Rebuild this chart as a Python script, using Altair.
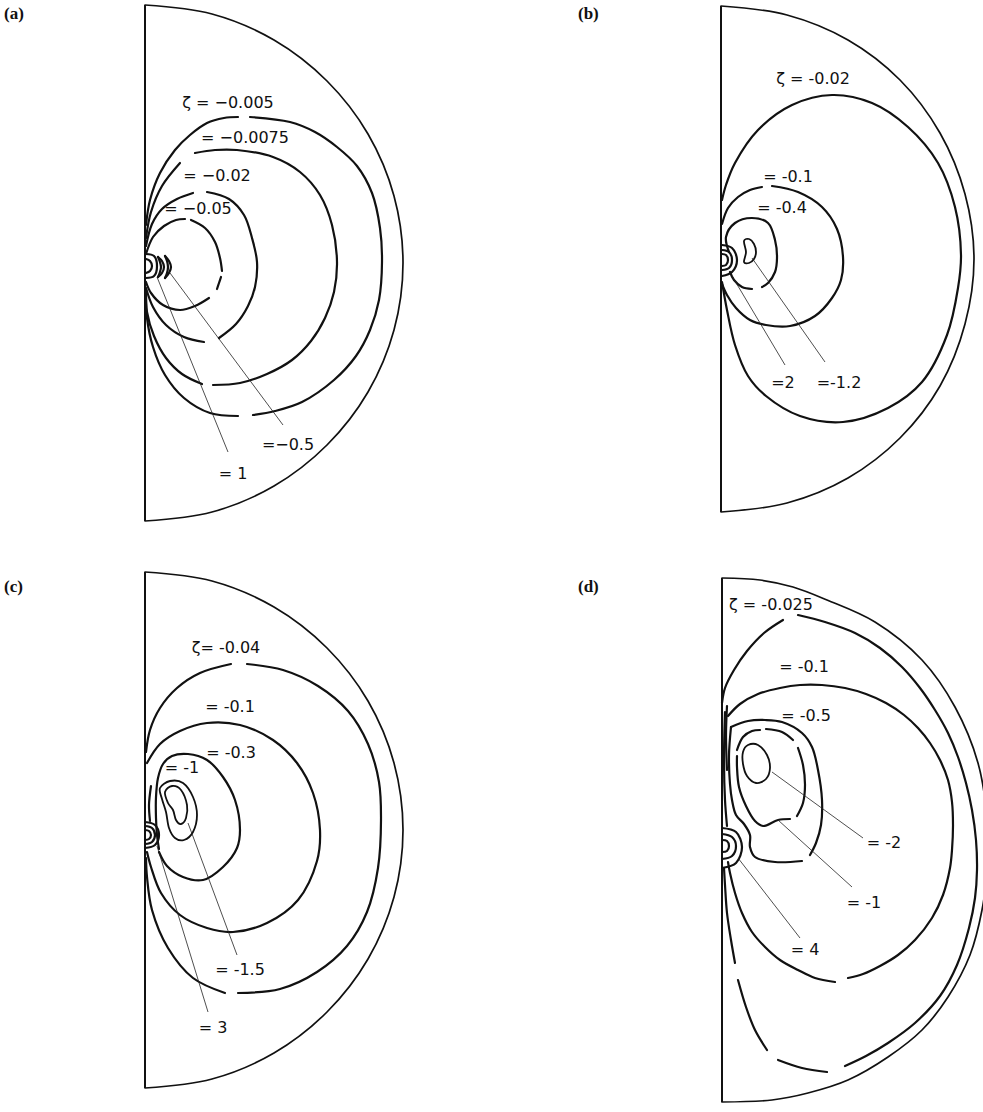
import altair as alt
import pandas as pd

W, H = 983, 1112

# ---------------------------------------------------------------
# Panel outlines: right half-discs (arc points) plus the symmetry axis
# ---------------------------------------------------------------
ARC_A = [(145, 5), (212, 14), (274, 40), (327, 81), (368, 134), (394, 196), (403, 263),
         (394, 330), (368, 392), (327, 445), (274, 486), (212, 512), (145, 521)]
ARC_B = [(721, 6), (787, 15), (848, 40), (900, 80), (940, 133), (965, 194), (974, 259),
         (965, 324), (940, 386), (900, 438), (848, 478), (787, 503), (721, 512)]
ARC_C = [(145, 572), (212, 581), (274, 607), (327, 648), (368, 701), (394, 763), (403, 830),
         (394, 897), (368, 959), (327, 1012), (274, 1053), (212, 1079), (145, 1088)]
ARC_D = [(722, 578), (760, 580), (793, 587), (827, 600), (875, 622), (922, 660), (955, 707),
         (978, 763), (987, 820), (987, 870), (982, 910), (970, 955), (948, 997), (922, 1030),
         (888, 1057), (848, 1080), (808, 1093), (772, 1100), (722, 1102)]
AXIS_X = [145, 721, 145, 722]
AXIS_TOP = [5, 6, 572, 578]
AXIS_BOTTOM = [521, 512, 1088, 1102]

# ---------------------------------------------------------------
# Vorticity contours, one list of pieces per level (gaps between pieces)
# ---------------------------------------------------------------
CONTOURS_A = {
    "-0.005": [
        [(146, 225), (150, 200), (160, 173), (175, 150), (190, 135), (207, 123), (224, 118), (238, 117)],
        [(250, 117), (290, 122), (315, 132), (337, 147), (357, 166), (372, 193), (380, 228), (382, 262),
         (379, 300), (370, 330), (356, 356), (334, 380), (302, 402), (275, 411), (253, 415)],
        [(238, 416), (210, 413), (184, 398), (165, 375), (153, 347), (147, 318), (146, 295)],
    ],
    "-0.0075": [
        [(146, 238), (151, 212), (162, 186), (180, 163)],
        [(195, 153), (215, 150), (237, 150), (273, 157), (300, 172), (320, 195), (332, 225), (337, 262),
         (334, 292), (325, 318), (311, 341), (292, 360), (267, 374), (240, 383), (213, 385)],
        [(202, 384), (182, 374), (166, 358), (154, 336), (147, 312), (146, 292)],
    ],
    "-0.02": [
        [(146, 246), (152, 224), (162, 209), (177, 199), (193, 193)],
        [(207, 192), (229, 199), (244, 215), (252, 238), (257, 262), (255, 287), (248, 306), (236, 324), (219, 338)],
        [(204, 342), (184, 337), (166, 325), (153, 307), (146, 288)],
    ],
    "-0.05": [
        [(146, 254), (153, 237), (164, 226), (176, 220), (185, 219)],
        [(191, 220), (205, 228), (215, 242), (220, 258), (222, 271)],
        [(221, 277), (219, 283), (217, 289)],
        [(209, 298), (195, 306), (180, 310), (163, 305), (151, 293), (146, 282)],
    ],
    "1": [
        [(146, 259), (150, 261), (152, 266), (150, 271), (146, 273)],
        [(146, 254), (154, 256), (157, 266), (154, 276), (146, 278)],
    ],
    "-0.5": [
        [(158, 257), (162, 261), (164, 267), (162, 273), (158, 277)],
        [(158, 257), (160, 262), (161, 267), (160, 272), (158, 277)],
        [(165, 256), (169, 261), (171, 267), (169, 273), (165, 278)],
        [(165, 256), (167, 261), (168, 267), (167, 273), (165, 278)],
    ],
}

CONTOURS_B = {
    "-0.02": [
        [(722, 200), (726, 185), (735, 163), (758, 130), (792, 105), (832, 95), (872, 103), (908, 127),
         (938, 163), (955, 207), (961, 255), (958, 288), (947, 335), (922, 382), (888, 408), (843, 422),
         (800, 416), (766, 396), (748, 376), (735, 345), (727, 310), (722, 282)],
    ],
    "-0.1": [
        [(722, 224), (728, 208), (738, 197), (750, 190), (762, 187)],
        [(772, 186), (798, 192), (822, 207), (837, 229), (843, 257), (841, 280), (832, 298), (815, 316),
         (790, 326), (766, 325), (750, 320), (736, 308), (727, 295), (722, 284)],
    ],
    "-0.4": [
        [(729, 252), (726, 237), (735, 223), (752, 218), (768, 223), (775, 240), (777, 258), (775, 272),
         (768, 283), (762, 287)],
        [(752, 289), (742, 287), (734, 280), (730, 272)],
    ],
    "2": [
        [(722, 254), (726, 255), (728, 260), (726, 265), (722, 266)],
        [(722, 250), (729, 252), (732, 260), (729, 268), (722, 270)],
        [(722, 245), (732, 248), (737, 260), (732, 272), (722, 276)],
    ],
}

CONTOURS_C = {
    "-0.04": [
        [(146, 752), (150, 730), (160, 708), (177, 688), (200, 673), (231, 664)],
        [(247, 664), (283, 670), (318, 686), (348, 711), (368, 744), (379, 782), (381, 820), (378, 868),
         (367, 912), (347, 946), (317, 972), (280, 989), (238, 993)],
        [(225, 993), (193, 978), (168, 948), (152, 910), (147, 877), (146, 858)],
    ],
    "-0.1": [
        [(147, 763), (160, 744), (180, 731), (207, 723), (240, 725), (273, 740), (297, 763), (313, 793),
         (320, 830), (317, 861), (298, 900), (267, 923), (233, 932), (207, 928), (180, 915), (161, 893),
         (151, 867), (147, 852)],
    ],
    "-0.3": [
        [(159, 849), (157, 835), (156, 818), (156, 797), (158, 778), (163, 764), (172, 756), (188, 754),
         (207, 760), (223, 777), (235, 800), (240, 830), (237, 848), (223, 867), (203, 880), (183, 877),
         (167, 866), (159, 852)],
        [(151, 786), (149, 805), (150, 821)],
    ],
    "3": [
        [(145, 830), (149, 831), (151, 835), (149, 839), (145, 840)],
        [(145, 826), (152, 828), (155, 835), (152, 842), (145, 844)],
        [(145, 822), (155, 825), (159, 835), (155, 845), (145, 848)],
    ],
}

CONTOURS_D = {
    "-0.025": [
        [(722, 703), (725, 688), (734, 670), (747, 651), (764, 633), (783, 620)],
        [(798, 615), (825, 622), (855, 633), (880, 648), (902, 667), (920, 688), (935, 710), (948, 733),
         (958, 757), (966, 783), (972, 810), (976, 840), (977, 870), (975, 898), (969, 928), (957, 965),
         (940, 996), (915, 1023), (888, 1043), (866, 1056), (845, 1066)],
        [(827, 1072), (802, 1068), (778, 1060)],
        [(767, 1050), (755, 1030), (746, 1007), (738, 980)],
        [(735, 963), (731, 940), (727, 913), (725, 885), (724, 868)],
    ],
    "-0.1": [
        [(728, 716), (740, 704), (758, 694), (780, 688), (800, 685), (822, 685), (845, 688), (866, 694),
         (886, 703), (904, 715), (918, 728), (930, 743), (940, 760), (948, 780), (952, 802), (953, 825),
         (952, 850), (950, 868), (943, 895), (932, 918), (915, 940), (898, 955), (880, 966), (863, 974),
         (848, 978)],
        [(835, 982), (815, 978), (798, 970), (780, 960), (765, 947), (752, 932), (742, 913), (735, 893),
         (730, 873), (728, 862)],
    ],
    "-0.5": [
        [(731, 727), (748, 721), (765, 720), (782, 722), (802, 733), (812, 747), (818, 770), (822, 800),
         (821, 825), (816, 843), (810, 855)],
        [(802, 861), (775, 862), (755, 857), (750, 847), (750, 835), (744, 824), (736, 815), (732, 800),
         (730, 784), (729, 755), (731, 727)],
        [(725, 712), (724, 760), (725, 800), (727, 826)],
        [(727, 706), (726, 735), (727, 770)],
    ],
    "-1": [
        [(737, 750), (743, 737), (752, 731), (760, 730)],
        [(766, 729), (782, 732), (793, 740)],
        [(798, 748), (803, 765), (805, 785), (803, 803), (797, 816)],
        [(790, 819), (778, 820), (763, 826), (755, 821), (746, 806), (739, 787), (737, 767), (737, 756)],
    ],
    "4": [
        [(722, 840), (727, 841), (729, 846), (727, 851), (722, 852)],
        [(722, 834), (732, 837), (736, 846), (732, 856), (722, 859)],
        [(722, 828), (736, 832), (742, 847), (736, 863), (722, 868)],
    ],
}

# Small closed cells (drawn as closed curves)
CLOSED_CELLS = {
    "b:-1.2": [(744, 241), (749, 239), (754, 244), (756, 252), (754, 259), (749, 263), (744, 262), (746, 252)],
    "c:-1": [(160, 788), (170, 781), (183, 783), (193, 797), (197, 815), (193, 832), (184, 840),
             (175, 838), (169, 828), (166, 812), (162, 799)],
    "c:-1.5": [(165, 792), (172, 786), (181, 790), (187, 805), (186, 818), (181, 824), (176, 820),
               (173, 810), (168, 803)],
    "d:-2": [(743, 752), (748, 745), (758, 745), (767, 755), (770, 768), (766, 779), (756, 783),
             (747, 776), (743, 764)],
}

# Leader lines from level labels to the cells they name: x1, y1, x2, y2
LEADERS = [
    (157, 277, 228, 452), (170, 273, 283, 425),
    (732, 276, 785, 365), (752, 258, 825, 362),
    (188, 823, 237, 955), (157, 846, 208, 1012),
    (772, 772, 863, 838), (778, 820, 852, 887), (738, 858, 800, 938),
]

# Level labels
LABEL_X = [228, 245, 217, 198, 288, 233,
           813, 788, 782, 783, 839,
           226, 230, 231, 182, 240, 213,
           771, 804, 806, 884, 864, 805]
LABEL_Y = [103, 138, 176, 209, 445, 474,
           79, 177, 208, 383, 383,
           648, 707, 753, 768, 970, 1028,
           605, 667, 716, 843, 903, 950]
LABEL_TEXT = ["ζ = −0.005", "= −0.0075", "= −0.02", "= −0.05", "=−0.5", "= 1",
              "ζ = -0.02", "= -0.1", "= -0.4", "=2", "=-1.2",
              "ζ= -0.04", "= -0.1", "= -0.3", "= -1", "= -1.5", "= 3",
              "ζ = -0.025", "= -0.1", "= -0.5", "= -2", "= -1", "= 4"]

# Panel tags
TAG_X = [4, 578, 4, 578]
TAG_Y = [14, 14, 587, 587]
TAG_TEXT = ["(a)", "(b)", "(c)", "(d)"]


# ---------------------------------------------------------------
# Tables
# ---------------------------------------------------------------
def curve_rows(name, pts, width):
    return [{"seg": name, "i": i, "x": x, "y": y, "w": width} for i, (x, y) in enumerate(pts)]


open_rows = []
for tag, arc in zip("abcd", [ARC_A, ARC_B, ARC_C, ARC_D]):
    open_rows += curve_rows(f"{tag}:outline", arc, 1.7)
for tag, table in zip("abcd", [CONTOURS_A, CONTOURS_B, CONTOURS_C, CONTOURS_D]):
    for level, pieces in table.items():
        for k, piece in enumerate(pieces):
            open_rows += curve_rows(f"{tag}:{level}:{k}", piece, 2.2)
open_df = pd.DataFrame(open_rows)

closed_rows = []
for name, pts in CLOSED_CELLS.items():
    closed_rows += curve_rows(name, pts, 1.8)
closed_df = pd.DataFrame(closed_rows)

axis_df = pd.DataFrame({"x": AXIS_X, "y": AXIS_TOP, "y2": AXIS_BOTTOM})
leader_df = pd.DataFrame(LEADERS, columns=["x", "y", "x2", "y2"])
label_df = pd.DataFrame({"x": LABEL_X, "y": LABEL_Y, "text": LABEL_TEXT})
tag_df = pd.DataFrame({"x": TAG_X, "y": TAG_Y, "text": TAG_TEXT})

xs = alt.Scale(domain=[0, W], nice=False, zero=False)
ys = alt.Scale(domain=[0, H], nice=False, zero=False, reverse=True)
X = alt.X("x:Q", scale=xs, axis=None)
Y = alt.Y("y:Q", scale=ys, axis=None)

curves = alt.Chart(open_df).mark_line(
    interpolate="catmull-rom", color="#111111", clip=True, strokeCap="round"
).encode(
    x=X, y=Y, detail="seg:N", order="i:Q",
    strokeWidth=alt.StrokeWidth("w:Q", scale=None),
)

cells = alt.Chart(closed_df).mark_line(
    interpolate="cardinal-closed", color="#111111", strokeWidth=1.8
).encode(x=X, y=Y, detail="seg:N", order="i:Q")

axes = alt.Chart(axis_df).mark_rule(color="#111111", strokeWidth=2).encode(
    x=X, y=Y, y2="y2:Q"
)

leaders = alt.Chart(leader_df).mark_rule(color="#222222", strokeWidth=0.8).encode(
    x=X, y=Y, x2="x2:Q", y2="y2:Q"
)

labels = alt.Chart(label_df).mark_text(
    font="DejaVu Sans", fontSize=16, align="center", baseline="middle", color="#111111"
).encode(x=X, y=Y, text="text:N")

tags = alt.Chart(tag_df).mark_text(
    font="Liberation Serif", fontSize=17, fontWeight="bold", align="left", baseline="middle",
    color="#111111"
).encode(x=X, y=Y, text="text:N")

chart = alt.layer(axes, curves, cells, leaders, labels, tags).properties(
    width=W, height=H, padding=0,
    autosize=alt.AutoSizeParams(type="none"),
    background="white",
).configure_view(stroke=None)

chart.save("out.html", embed_options={"renderer": "svg", "actions": False})
